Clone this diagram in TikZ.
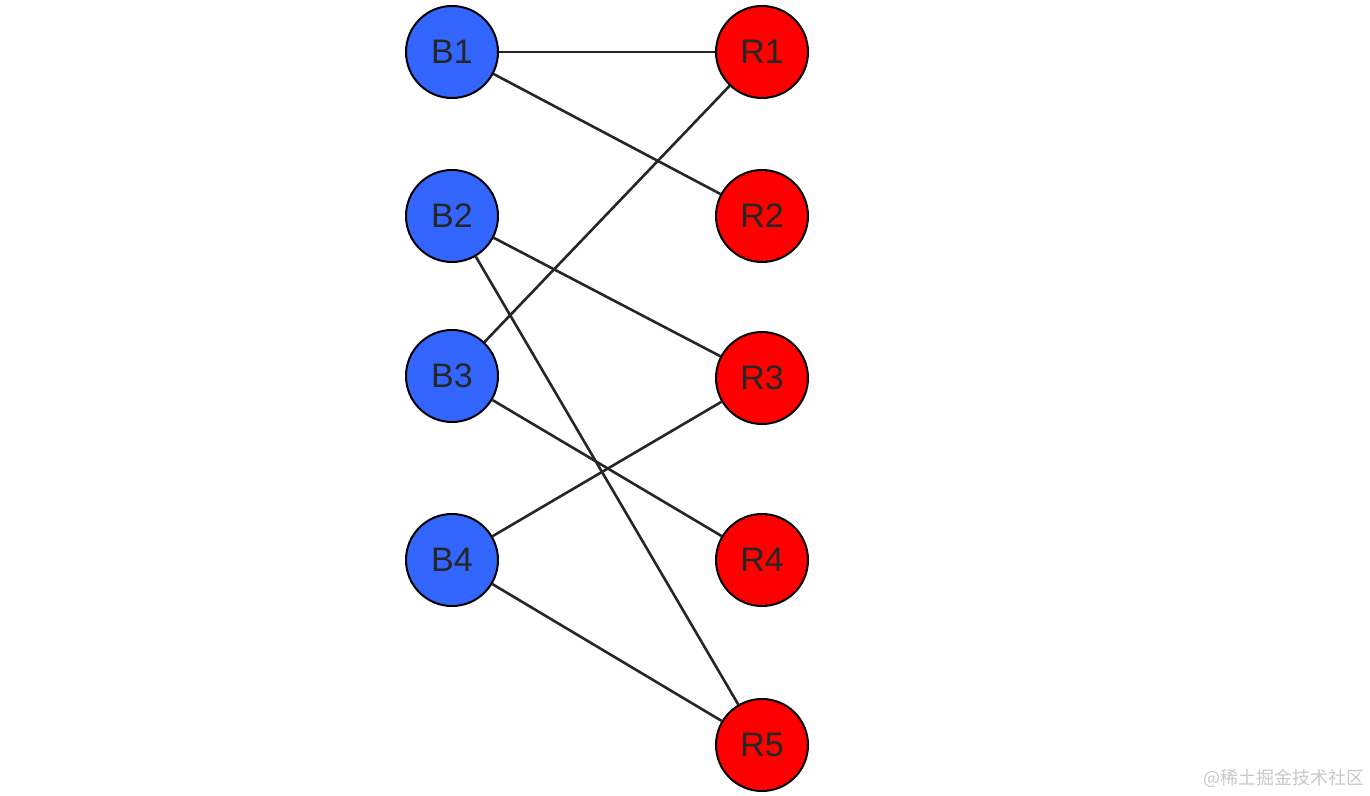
\documentclass[tikz,border=0pt]{standalone}
\usepackage{fontspec}
\setmainfont{Liberation Sans}
\newfontfamily\cjk{Noto Sans CJK SC}
\definecolor{bnode}{RGB}{51,102,255}
\definecolor{rnode}{RGB}{255,0,0}
\definecolor{wm}{RGB}{200,200,200}
\begin{document}
\begin{tikzpicture}[x=0.5pt,y=-0.5pt,
  vert/.style={circle,draw=black,line width=1pt,minimum size=46pt,inner sep=0pt,font=\fontsize{17}{17}\selectfont,text=black!85},
  bv/.style={vert,fill=bnode},
  rv/.style={vert,fill=rnode},
  edge/.style={line width=1.3pt,draw=black!85}]
\useasboundingbox[fill=white] (0,0) rectangle (1370,796);
\node[bv] (B1) at (452,52) {B1};
\node[bv] (B2) at (452,216) {B2};
\node[bv] (B3) at (452,376) {B3};
\node[bv] (B4) at (452,560) {B4};
\node[rv] (R1) at (762,52) {R1};
\node[rv] (R2) at (762,216) {R2};
\node[rv] (R3) at (762,378) {R3};
\node[rv] (R4) at (762,560) {R4};
\node[rv] (R5) at (762,745) {R5};
\begin{scope}[on background layer/.try]
\end{scope}
\draw[edge] (B1) -- (R1);
\draw[edge] (B1) -- (R2);
\draw[edge] (B3) -- (R1);
\draw[edge] (B2) -- (R3);
\draw[edge] (B2) -- (R5);
\draw[edge] (B3) -- (R4);
\draw[edge] (B4) -- (R3);
\draw[edge] (B4) -- (R5);
\node[anchor=east,text=wm,font=\cjk\fontsize{9}{9}\selectfont,inner sep=0pt] (wm) at (1365,778) {@稀土掘金技术社区};
\end{tikzpicture}
\end{document}
